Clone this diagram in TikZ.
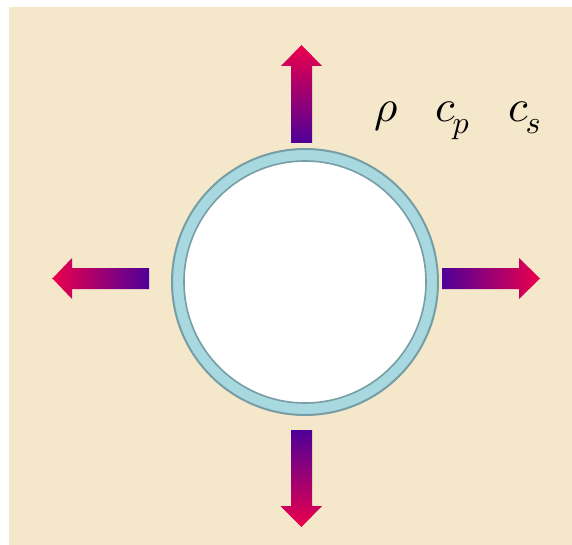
\documentclass[tikz,border=0pt]{standalone}
\usepackage{graphicx}
\definecolor{bg}{RGB}{245,231,202}
\definecolor{ringblue}{RGB}{168,216,224}
\definecolor{ringedge}{RGB}{118,158,164}
\definecolor{arrowred}{RGB}{236,0,76}
\definecolor{arrowpurple}{RGB}{78,0,152}
\tikzset{
  sym/.style={anchor=base west, inner sep=0pt},
  arrowshape/.style={draw=none}
}
\newcommand{\bigsym}[1]{\scalebox{4.5}{$#1$}}
\newcommand{\subsc}[1]{\hspace{-2pt}\raisebox{-12pt}{\scalebox{3.2}{$#1$}}}
\begin{document}
\begin{tikzpicture}[x=1pt,y=-1pt]
\useasboundingbox (0,0) rectangle (572,545);
\fill[white] (0,0) rectangle (572,545);
\fill[bg] (9,7) rectangle (572,545);
% ring
\node[circle, inner sep=0pt, minimum size=266pt, fill=ringblue, draw=ringedge, line width=2pt] (outer) at (305,282) {};
\node[circle, inner sep=0pt, minimum size=242pt, fill=white, draw=ringedge, line width=1.6pt] (inner) at (305,282) {};
% top arrow
\shade[arrowshape, top color=arrowred, bottom color=arrowpurple]
  (291,143) -- (291,66) -- (281,66) -- (301.5,45) -- (322,66) -- (312,66) -- (312,143) -- cycle;
% bottom arrow
\shade[arrowshape, top color=arrowpurple, bottom color=arrowred]
  (291,430) -- (291,506) -- (280.5,506) -- (301.5,527) -- (322,506) -- (312,506) -- (312,430) -- cycle;
% left arrow
\shade[arrowshape, left color=arrowred, right color=arrowpurple]
  (149,268) -- (72,268) -- (72,258) -- (52.5,278.5) -- (72,299) -- (72,289) -- (149,289) -- cycle;
% right arrow
\shade[arrowshape, left color=arrowpurple, right color=arrowred]
  (442,268) -- (519,268) -- (519,258) -- (540,278.5) -- (519,299) -- (519,289) -- (442,289) -- cycle;
% labels
\node[sym] (rho) at (374,122) {\bigsym{\rho}};
\node[sym] (cp) at (435,122) {\bigsym{c}\subsc{p}};
\node[sym] (cs) at (508,122) {\bigsym{c}\subsc{s}};
\end{tikzpicture}
\end{document}
